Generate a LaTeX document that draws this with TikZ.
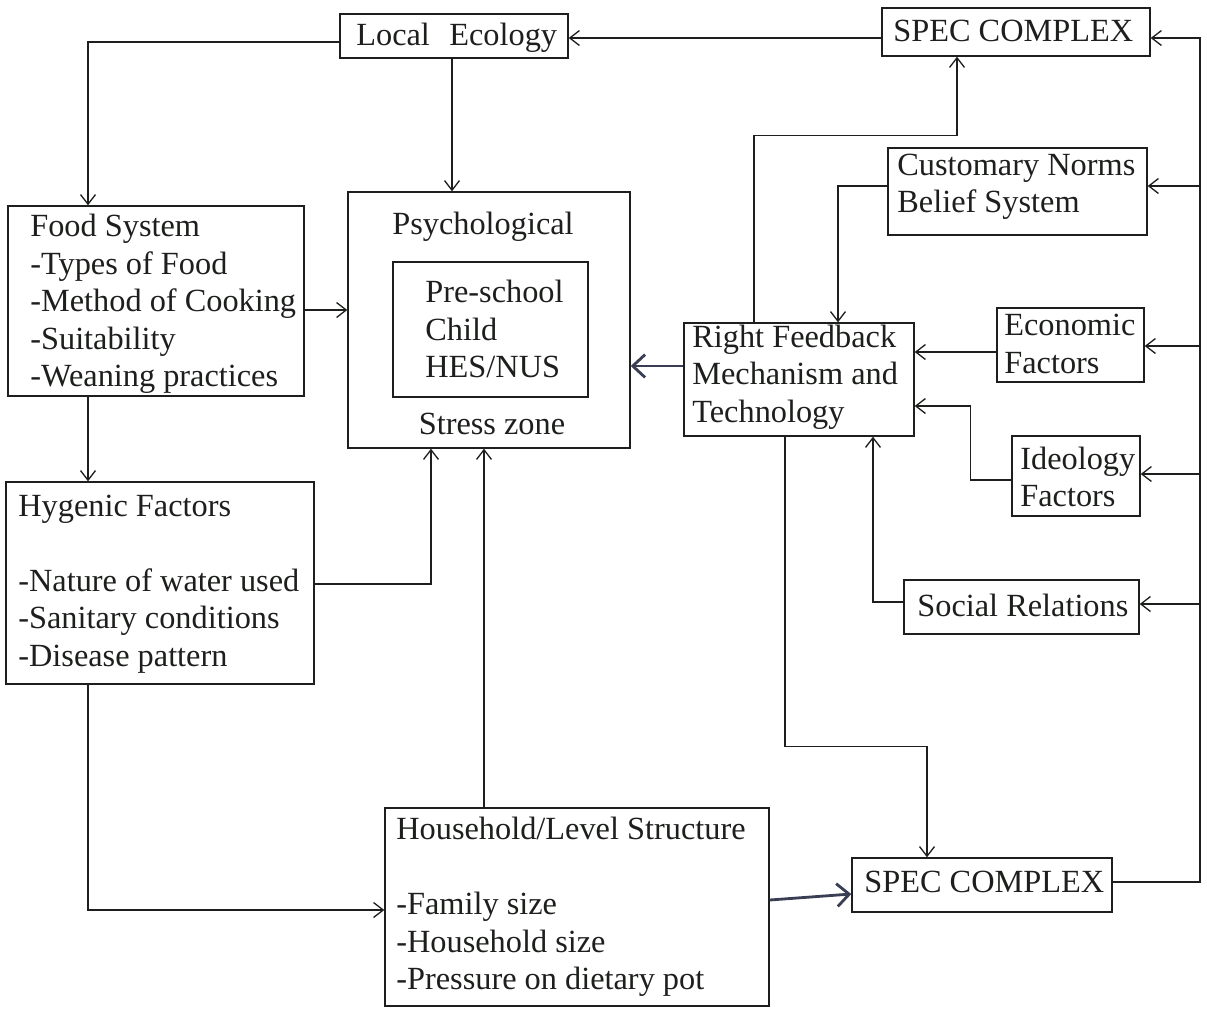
\documentclass[tikz,border=0pt]{standalone}
\usepackage{fontspec}
\setmainfont{Liberation Serif}
\usetikzlibrary{arrows.meta,fit,calc}
\definecolor{ink}{HTML}{1C1F1C}
\definecolor{inkb}{HTML}{3A3E55}
\begin{document}
\begin{tikzpicture}[x=0.02cm,y=-0.02cm,
  box/.style={draw=ink, line width=0.8pt, inner sep=0pt, rectangle},
  txt/.style={inner sep=0pt, anchor=west, align=left, text=ink, font=\fontsize{18.4pt}{21.3pt}\selectfont},
  link/.style={draw=ink, line width=0.75pt, -{Straight Barb[length=5.5pt,width=8.5pt]}},
  heavylink/.style={draw=inkb, line width=1.6pt, -{Straight Barb[length=7pt,width=13pt]}}]
\useasboundingbox (0,0) rectangle (1207,1009);

% boxes and texts
\node[box, fit={(340,14)(568,58)}] (le) {};
\node[txt] (leT) at (356,38) {Local\hspace{0.6em}Ecology};
\node[box, fit={(882,8)(1150,56)}] (sc1) {};
\node[txt] (sc1T) at (893,31) {SPEC COMPLEX};
\node[box, fit={(888,148)(1147,235)}] (cn) {};
\node[txt] (cnT) at (897,187) {Customary Norms\\Belief System};
\node[box, fit={(8,206)(304,396)}] (fs) {};
\node[txt] (fsT) at (30,304) {Food System\\-Types of Food\\-Method of Cooking\\-Suitability\\-Weaning practices};
\node[box, fit={(348,192)(630,448)}] (ps) {};
\node[txt, anchor=center] (psT) at (483,227) {Psychological};
\node[box, fit={(393,262)(588,397)}] (pc) {};
\node[txt] (pcT) at (425,329) {Pre-school\\Child\\HES/NUS};
\node[txt, anchor=center] (szT) at (492,424) {Stress zone};
\node[box, fit={(684,323)(914,436)}] (rf) {};
\node[txt] (rfT) at (692,377) {Right Feedback\\Mechanism and\\Technology};
\node[box, fit={(997,308)(1144,382)}] (ef) {};
\node[txt] (efT) at (1004,344) {Economic\\Factors};
\node[box, fit={(1012,436)(1140,516)}] (id) {};
\node[txt] (idT) at (1020,477) {Ideology\\Factors};
\node[box, fit={(904,580)(1139,634)}] (sr) {};
\node[txt] (srT) at (917,605) {Social Relations};
\node[box, fit={(6,482)(314,684)}] (hf) {};
\node[txt] (hfT) at (18,584) {Hygenic Factors\\[21.3pt]-Nature of water used\\-Sanitary conditions\\-Disease pattern};
\node[box, fit={(385,808)(769,1006)}] (hh) {};
\node[txt] (hhT) at (396,907) {Household/Level Structure\\[21.3pt]-Family size\\-Household size\\-Pressure on dietary pot};
\node[box, fit={(852,858)(1112,912)}] (sc2) {};
\node[txt] (sc2T) at (864,882) {SPEC COMPLEX};

% bus coordinates
\coordinate (busT) at (1200,38);
\coordinate (busB) at (1200,882);

% connectors
\draw[link] (le.west |- 0,42) -| (fs.north -| 88,0);
\draw[link] (le.south -| 452,0) -- (ps.north -| 452,0);
\draw[link] (sc1.west |- 0,38) -- (le.east |- 0,38);
\draw[link] (sc2.east |- busB) -- (busB) -- (busT) -- (sc1.east |- busT);
\draw[link] (busT |- 0,186) -- (cn.east |- 0,186);
\draw[link] (busT |- 0,346) -- (ef.east |- 0,346);
\draw[link] (busT |- 0,474) -- (id.east |- 0,474);
\draw[link] (busT |- 0,604) -- (sr.east |- 0,604);
\draw[link] (rf.north -| 754,0) -- ++(0,-187) -| (sc1.south -| 957,0);
\draw[link] (cn.west |- 0,186) -| (rf.north -| 838,0);
\draw[link] (ef.west |- 0,352) -- (rf.east |- 0,352);
\draw[link] (id.west |- 0,480) -- ++(-41,0) |- (rf.east |- 0,406);
\draw[link] (sr.west |- 0,602) -| (rf.south -| 873,0);
\draw[link] (rf.south -| 785,0) -- ++(0,310) -| (sc2.north -| 927,0);
\draw[heavylink] (rf.west |- 0,366) -- (ps.east |- 0,366);
\draw[link] (fs.east |- 0,310) -- (ps.west |- 0,310);
\draw[link] (fs.south -| 88,0) -- (hf.north -| 88,0);
\draw[link] (hf.east |- 0,584) -| (ps.south -| 431,0);
\draw[link] (hh.north -| 484,0) -- (ps.south -| 484,0);
\draw[link] (hf.south -| 88,0) |- (hh.west |- 0,910);
\draw[heavylink] (hh.east |- 0,900) -- (sc2.west |- 0,894);
\end{tikzpicture}
\end{document}
